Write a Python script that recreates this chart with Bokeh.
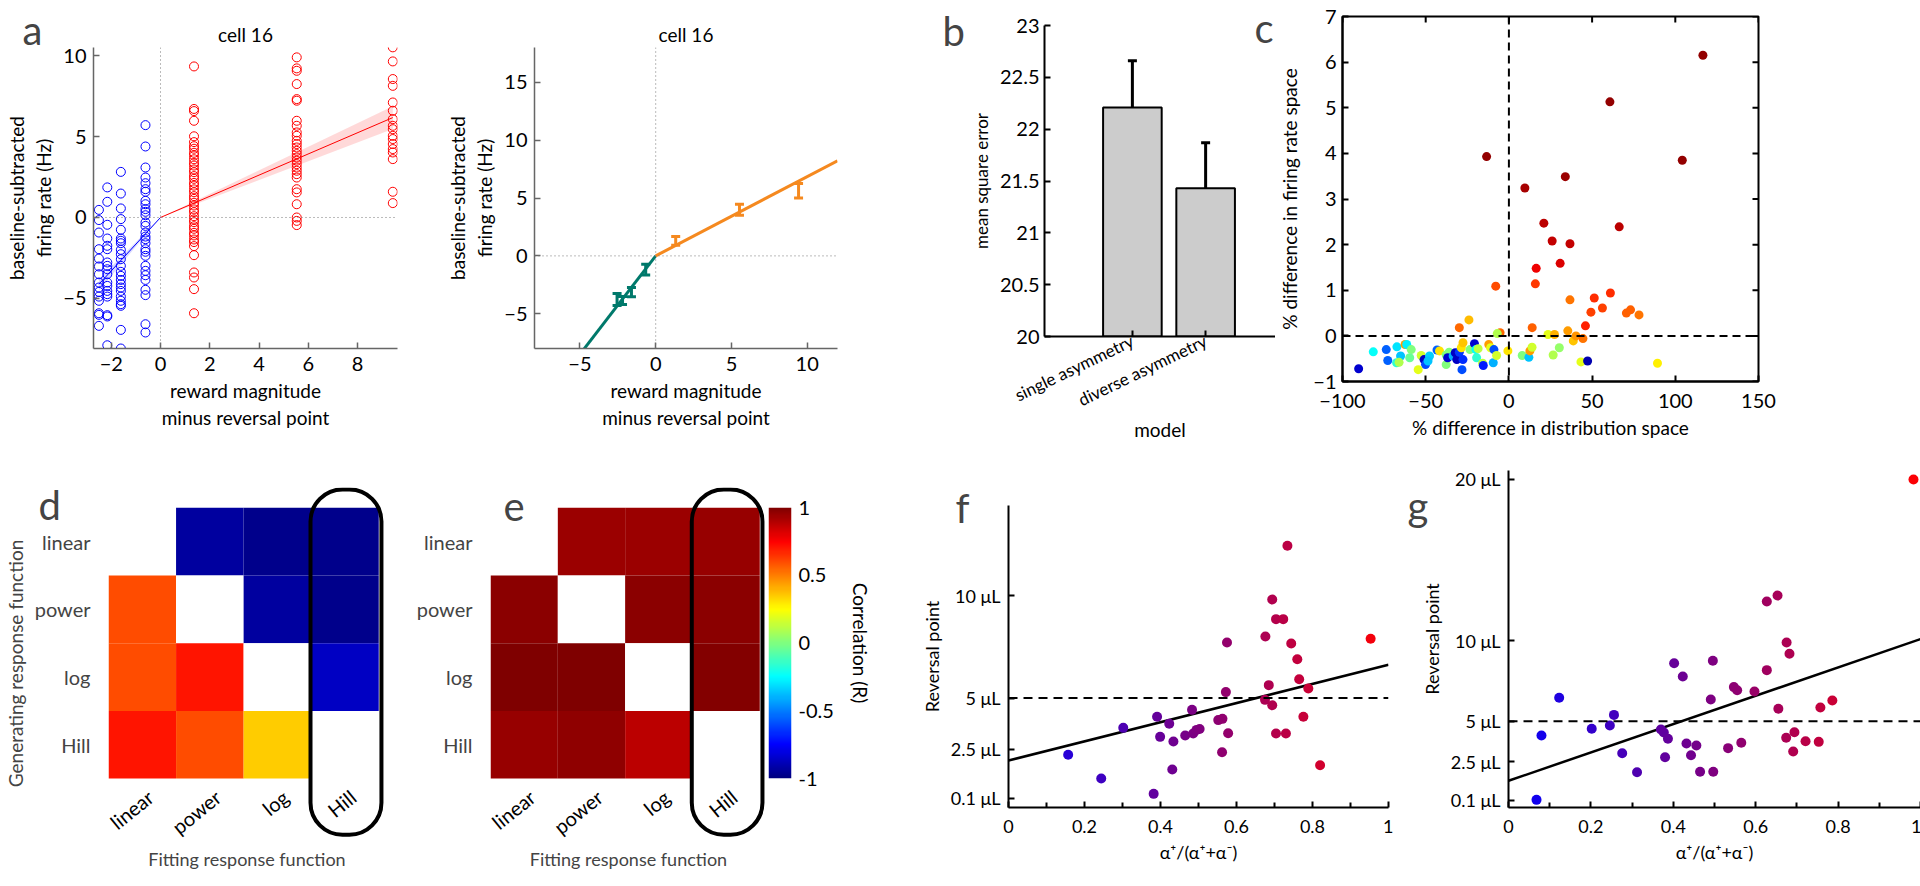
import numpy as np
from bokeh.plotting import figure
from bokeh.layouts import row, column
from bokeh.models import (ColumnDataSource, Span, Label, FixedTicker,
                          Whisker, TeeHead, BoxAnnotation, LinearColorMapper)
from bokeh.transform import linear_cmap
from bokeh.embed import file_html
from bokeh.resources import INLINE
from bokeh.core.properties import value

FONT = "Lato"

# ---------------- data: panel a (left) single trials ----------------
a_neg_x = [-2.5, -2.16, -1.61, -0.61]
a_neg_y = [
    [0.47, -0.16, -0.93, -1.96, -2.54, -3.03, -3.51, -4.02, -4.33, -4.60, -4.89, -5.15, -5.92, -6.02, -6.70],
    [1.86, 0.97, -0.45, -1.30, -1.75, -1.96, -2.78, -2.99, -3.20, -3.51, -4.02, -4.23, -4.54, -4.74, -4.89, -6.04, -6.12, -7.90],
    [2.82, 1.48, 0.56, -0.10, -0.76, -1.30, -1.44, -1.59, -2.00, -2.27, -2.58, -2.99, -3.36, -3.61, -3.86, -4.12,
     -4.33, -4.54, -4.89, -5.15, -5.36, -5.46, -6.95, -8.10],
    [5.71, 4.39, 3.09, 2.47, 2.12, 1.75, 1.59, 1.03, 0.82, 0.52, 0.35, 0.14, -0.31, -0.52, -0.93, -1.18, -1.34,
     -1.59, -1.96, -2.12, -2.37, -2.99, -3.30, -3.57, -3.86, -4.47, -4.80, -6.60, -7.11],
]
a_pos_x = [1.36, 5.53, 9.43]
a_pos_y = [
    [9.34, 6.71, 6.58, 5.98, 5.02, 4.66, 4.41, 4.25, 4.00, 3.83, 3.60, 3.38, 3.21, 2.97, 2.80, 2.56, 2.39, 2.14,
     1.97, 1.74, 1.56, 1.32, 1.15, 0.91, 0.74, 0.50, 0.33, 0.08, -0.12, -0.29, -0.54, -0.70, -0.95, -1.11, -1.36,
     -1.52, -1.77, -2.33, -3.40, -3.71, -4.43, -5.92],
    [9.90, 9.22, 9.07, 8.25, 7.32, 7.22, 5.98, 5.67, 5.26, 5.05, 4.74, 4.54, 4.33, 4.12, 3.92, 3.71, 3.51, 3.30,
     3.09, 2.89, 2.68, 2.47, 1.75, 1.55, 0.82, 0.00, -0.21, -0.47],
    [10.52, 9.65, 8.56, 8.14, 7.11, 6.60, 6.08, 5.67, 5.46, 5.05, 4.85, 4.54, 4.23, 4.02, 3.61, 1.59, 0.89],
]
a_neg_fit = [1.65, 1.52, 1.80]   # slope, lower, upper
a_pos_fit = [0.655, 0.58, 0.73]

# ---------------- data: panel a (right) means +- sem ----------------
a2_neg_x = [-2.55, -2.19, -1.60, -0.66]
a2_neg_mean = [-3.76, -3.86, -3.13, -1.19]
a2_neg_err = [0.52, 0.35, 0.39, 0.46]
a2_pos_x = [1.32, 5.53, 9.43]
a2_pos_mean = [1.30, 3.98, 5.63]
a2_pos_err = [0.38, 0.48, 0.63]
a2_slopes = [1.70, 0.685]

# ---------------- data: panel b ----------------
b_models = ["single asymmetry", "diverse asymmetry"]
b_mse = [22.21, 21.43]
b_lo = [21.75, 20.98]
b_hi = [22.66, 21.87]

# ---------------- data: panel c ----------------
c_x = [116.6, 60.7, -13.4, 104.2, 9.6, 33.9, 21.0, 26.0, 36.7, 66.3, 30.8, 16.4, 15.9, -7.9, 36.7, 51.3, 61.0,
       56.2, 49.3, 70.6, 73.1, 78.2, 46.0, 14.0, -5.3, -29.8, -24.0, 89.3,
       -90.3, -81.5, -73.7, -72.8, -67.3, -65.1, -62.4, -61.4, -58.7, -59.6, -67.5, -66.0, -52.7, -51.0, -50.1,
       -47.7, -48.6, -54.5, -43.2, -41.7, -37.7, -35.9, -37.7, -36.8, -33.5, -32.2, -31.3, -29.8, -28.6, -27.6,
       -27.6, -28.2, -23.4, -20.7, -19.8, -18.5, -19.4, -15.8, -15.4, -12.1, -11.0, -9.0, -9.4, -7.0, -0.6, -7.4,
       8.0, 12.0, 12.6, 13.9, 23.5, 27.4, 30.3, 26.6, 35.4, 38.7, 40.3, 44.5, 43.3, 47.3]
c_y = [6.15, 5.13, 3.93, 3.85, 3.24, 3.49, 2.47, 2.08, 2.02, 2.39, 1.59, 1.48, 1.14, 1.09, 0.79, 0.83, 0.94,
       0.61, 0.52, 0.50, 0.57, 0.46, 0.22, 0.18, 0.07, 0.18, 0.35, -0.60,
       -0.72, -0.35, -0.30, -0.54, -0.24, -0.44, -0.19, -0.19, -0.30, -0.48, -0.59, -0.58, -0.43, -0.52, -0.63,
       -0.44, -0.55, -0.74, -0.31, -0.33, -0.42, -0.36, -0.63, -0.48, -0.44, -0.37, -0.52, -0.36, -0.26, -0.15,
       -0.52, -0.74, -0.30, -0.17, -0.30, -0.28, -0.48, -0.60, -0.65, -0.19, -0.26, -0.30, -0.59, 0.05, -0.33, -0.43,
       -0.43, -0.47, -0.33, -0.25, 0.03, 0.03, -0.26, -0.42, 0.11, -0.11, 0.00, -0.06, -0.57, -0.55]
c_col = [0.98, 0.98, 0.98, 0.98, 0.96, 0.97, 0.94, 0.93, 0.93, 0.94, 0.91, 0.89, 0.82, 0.80, 0.76, 0.83, 0.83,
         0.81, 0.81, 0.78, 0.78, 0.76, 0.84, 0.78, 0.77, 0.77, 0.69, 0.64,
         0.08, 0.38, 0.22, 0.22, 0.35, 0.32, 0.72, 0.36, 0.50, 0.48, 0.42, 0.55, 0.58, 0.07, 0.20,
         0.33, 0.32, 0.60, 0.22, 0.65, 0.50, 0.50, 0.50, 0.08, 0.30, 0.07, 0.07, 0.18, 0.65, 0.68,
         0.17, 0.20, 0.50, 0.08, 0.38, 0.56, 0.42, 0.56, 0.15, 0.72, 0.60, 0.20, 0.30, 0.55, 0.65, 0.58,
         0.50, 0.32, 0.72, 0.58, 0.60, 0.70, 0.52, 0.55, 0.72, 0.68, 0.73, 0.76, 0.60, 0.05]
c_xticks = [-100, -50, 0, 50, 100, 150]
c_yticks = [-1, 0, 1, 2, 3, 4, 5, 6, 7]

# ---------------- data: panels d, e ----------------
resp_funcs = ["linear", "power", "log", "Hill"]
nan = float("nan")
d_R = [[nan, -0.935, -0.975, -0.97],
       [0.60, nan, -0.93, -0.97],
       [0.60, 0.71, nan, -0.86],
       [0.71, 0.60, 0.35, nan]]
e_R = [[nan, 0.94, 0.94, 0.95],
       [0.975, nan, 0.975, 0.975],
       [0.995, 0.995, nan, 0.99],
       [0.95, 0.965, 0.88, nan]]

# ---------------- data: panels f, g ----------------
f_asym = [0.157, 0.244, 0.302, 0.382, 0.391, 0.399, 0.423, 0.434, 0.431, 0.465, 0.483, 0.486, 0.495, 0.503, 0.552,
          0.563, 0.562, 0.572, 0.575, 0.578, 0.676, 0.675, 0.685, 0.694, 0.694, 0.704, 0.723, 0.704, 0.730, 0.734,
          0.744, 0.760, 0.765, 0.789, 0.776, 0.820, 0.953]
f_rev = [2.22, 1.06, 3.54, 0.31, 4.08, 3.10, 3.74, 2.87, 1.50, 3.17, 4.42, 3.26, 3.44, 3.48, 3.92,
         3.98, 2.35, 5.29, 7.72, 3.28, 8.01, 4.91, 5.63, 9.82, 4.65, 8.86, 8.86, 3.26, 3.26, 12.45,
         7.67, 6.90, 5.92, 5.47, 4.08, 1.71, 7.90]
f_fit = [1.94, 4.69]   # intercept, slope
g_asym = [0.068, 0.080, 0.123, 0.202, 0.246, 0.256, 0.276, 0.312, 0.370, 0.377, 0.387, 0.380, 0.402, 0.423,
          0.432, 0.443, 0.456, 0.465, 0.491, 0.496, 0.497, 0.533, 0.547, 0.555, 0.565, 0.597, 0.627, 0.653,
          0.627, 0.655, 0.675, 0.682, 0.674, 0.694, 0.691, 0.721, 0.753, 0.757, 0.786, 0.983]
g_rev = [0.14, 4.12, 6.46, 4.54, 4.74, 5.40, 3.03, 1.85, 4.50, 4.31, 3.92, 2.78, 8.60, 7.78,
         3.63, 2.90, 3.50, 1.88, 6.35, 8.75, 1.88, 3.34, 7.12, 6.93, 3.67, 6.85, 12.42, 12.79,
         8.17, 5.78, 9.88, 9.18, 3.98, 4.33, 3.13, 3.77, 3.73, 5.86, 6.29, 19.97]
g_fit = [1.32, 8.77]
rev_ref = 5.0
rev_ticks = [0.1, 2.5, 5, 10, 20]


# ---------------- helpers ----------------
def jet(n):
    out = []
    for i in range(n):
        t = i / (n - 1)
        r = min(max(1.5 - abs(4 * t - 3), 0), 1)
        g = min(max(1.5 - abs(4 * t - 2), 0), 1)
        b = min(max(1.5 - abs(4 * t - 1), 0), 1)
        out.append("#%02x%02x%02x" % (int(r * 255), int(g * 255), int(b * 255)))
    return out


JET = jet(256)
BLUE_RED = ["#%02x00%02x" % (i, 255 - i) for i in range(256)]


def base_fig(fw, fh, l, r, t, b, xr, yr, **kw):
    p = figure(frame_width=fw, frame_height=fh, x_range=xr, y_range=yr, min_border_left=l, min_border_right=r,
               min_border_top=t, min_border_bottom=b, output_backend="svg", toolbar_location=None, **kw)
    p.grid.visible = False
    p.outline_line_color = None
    p.background_fill_color = "white"
    p.border_fill_color = "white"
    p.title.text_font_size = "0px"
    return p


def style_axes(p, color="black", lw=1.5, tick_size="20px", label_size="19px"):
    for ax in p.axis:
        ax.axis_line_color = color
        ax.axis_line_width = lw
        ax.major_tick_line_color = color
        ax.major_tick_line_width = lw
        ax.major_tick_in = 6
        ax.major_tick_out = 0
        ax.minor_tick_line_color = None
        ax.major_label_text_font = FONT
        ax.major_label_text_font_size = tick_size
        ax.major_label_text_color = "black"
        ax.axis_label_text_font = FONT
        ax.axis_label_text_font_size = label_size
        ax.axis_label_text_font_style = "normal"
        ax.axis_label_text_color = "black"


def letter(p, txt, ax_, ay_, frame, side):
    """panel letter at page position (ax_, ay_), expressed in the panel's data coordinates;
    kept in a side panel so that it is not clipped to the plot frame"""
    fl, ft, fw, fh = frame
    xr, yr = p.x_range, p.y_range
    x = xr.start + (ax_ - fl) / fw * (xr.end - xr.start)
    y = yr.start + (ft + fh - ay_) / fh * (yr.end - yr.start)
    lab = Label(x=x, y=y, text=txt, text_font=FONT, text_font_size="40px",
                text_baseline="alphabetic", text_align="left")
    if side is None:
        p.add_layout(lab)
    else:
        p.add_layout(lab, side)


def title(p, txt):
    p.title.text = txt
    p.title.align = "center"
    p.title.text_font = FONT
    p.title.text_font_size = "19px"
    p.title.text_font_style = "normal"
    p.title.text_color = "black"
    p.title.standoff = 4


# ================= panel a (left) =================  canvas x 8..440
pa = base_fig(304, 301, 93, 35, 47, 97, (-2.72, 9.62), (-8.1, 10.51))
style_axes(pa, color="#666666", lw=1.5)
title(pa, "cell 16")
pa.xaxis.ticker = FixedTicker(ticks=[-2, 0, 2, 4, 6, 8])
pa.yaxis.ticker = FixedTicker(ticks=[-5, 0, 5, 10])
pa.xaxis.axis_label = "reward magnitude\nminus reversal point"
pa.yaxis.axis_label = "baseline-subtracted\nfiring rate (Hz)"
pa.xaxis.major_label_standoff = 8
pa.yaxis.major_label_standoff = 7
for sp in (Span(location=0, dimension="height"), Span(location=0, dimension="width")):
    sp.line_color = "#777777"
    sp.line_dash = "1 3"
    sp.line_width = 1
    pa.add_layout(sp)
nx = np.array([min(a_neg_x), 0.0])
pa.varea(x=nx, y1=nx * a_neg_fit[1], y2=nx * a_neg_fit[2], fill_color="#0000ff", fill_alpha=0.15)
px_ = np.array([0.0, max(a_pos_x)])
pa.varea(x=px_, y1=px_ * a_pos_fit[1], y2=px_ * a_pos_fit[2], fill_color="#ff0000", fill_alpha=0.15)
pa.line(nx, nx * a_neg_fit[0], line_color="#0000ff", line_width=1)
pa.line(px_, px_ * a_pos_fit[0], line_color="#ff0000", line_width=1)
xs, ys = [], []
for x, col in zip(a_neg_x, a_neg_y):
    xs += [x] * len(col)
    ys += col
pa.scatter(xs, ys, size=9, fill_color=None, line_color="#0000ff", line_width=1)
xs, ys = [], []
for x, col in zip(a_pos_x, a_pos_y):
    xs += [x] * len(col)
    ys += col
pa.scatter(xs, ys, size=9, fill_color=None, line_color="#ff0000", line_width=1)
letter(pa, "a", 30, 37, (101, 55, 304, 301), "right")

# ================= panel a (right) =================  canvas x 440..934
pa2 = base_fig(303, 301, 102, 89, 47, 97, (-8, 12), (-8, 18))
style_axes(pa2, color="#666666", lw=1.5)
title(pa2, "cell 16")
pa2.xaxis.ticker = FixedTicker(ticks=[-5, 0, 5, 10])
pa2.yaxis.ticker = FixedTicker(ticks=[-5, 0, 5, 10, 15])
pa2.xaxis.axis_label = "reward magnitude\nminus reversal point"
pa2.yaxis.axis_label = "baseline-subtracted\nfiring rate (Hz)"
pa2.xaxis.major_label_standoff = 8
pa2.yaxis.major_label_standoff = 7
for sp in (Span(location=0, dimension="height"), Span(location=0, dimension="width")):
    sp.line_color = "#777777"
    sp.line_dash = "1 3"
    sp.line_width = 1
    pa2.add_layout(sp)
TEAL = "#00796b"
ORANGE = "#f5891f"
lx = np.array([-8.0, 0.0])
pa2.line(lx, lx * a2_slopes[0], line_color=TEAL, line_width=3)
rx = np.array([0.0, 12.0])
pa2.line(rx, rx * a2_slopes[1], line_color=ORANGE, line_width=3)
for xv, mv, ev, colr in ((a2_neg_x, a2_neg_mean, a2_neg_err, TEAL), (a2_pos_x, a2_pos_mean, a2_pos_err, ORANGE)):
    src = ColumnDataSource(dict(x=xv, lo=[m - e for m, e in zip(mv, ev)], hi=[m + e for m, e in zip(mv, ev)]))
    pa2.add_layout(Whisker(source=src, base="x", lower="lo", upper="hi", line_color=colr, line_width=3,
                           upper_head=TeeHead(size=9, line_color=colr, line_width=3),
                           lower_head=TeeHead(size=9, line_color=colr, line_width=3)))

# ================= panel b =================  canvas x 934..1280
pb = base_fig(231, 311, 115, 0, 25, 109, (-0.2, 2.954), (20, 23))
style_axes(pb, color="black", lw=2)
bx = [1, 2]
pb.vbar(x=bx, top=b_mse, bottom=20, width=0.8, fill_color="#cccccc", line_color="black", line_width=2)
bsrc = ColumnDataSource(dict(x=bx, lo=b_lo, hi=b_hi))
pb.add_layout(Whisker(source=bsrc, base="x", lower="lo", upper="hi", line_color="black", line_width=3,
                      upper_head=TeeHead(size=9, line_color="black", line_width=3),
                      lower_head=TeeHead(size=9, line_color="black", line_width=3)))
pb.xaxis.ticker = FixedTicker(ticks=bx)
pb.xaxis.major_label_overrides = {1: b_models[0], 2: b_models[1]}
pb.xaxis.major_label_orientation = 0.45
pb.xaxis.major_label_text_font_size = "17px"
pb.xaxis.major_label_standoff = 3
pb.xaxis.axis_label = "model"
pb.xaxis.axis_label_standoff = -4
bticks = [20, 20.5, 21, 21.5, 22, 22.5, 23]
pb.yaxis.ticker = FixedTicker(ticks=bticks)
pb.yaxis.major_label_overrides = {t: ("%g" % t) for t in bticks}
pb.yaxis.axis_label = "mean square error"
pb.yaxis.axis_label_text_font_size = "17px"
letter(pb, "b", 947, 38, (1049, 33, 231, 311), "left")
letter(pb, "c", 1259, 35, (1049, 33, 231, 311), "left")

# ================= panel c =================  canvas x 1280..1911
pc = base_fig(416, 365, 55, 160, 16, 64, (-100, 150), (-1, 7))
style_axes(pc, color="black", lw=2)
pc.outline_line_color = "black"
pc.outline_line_width = 2
pc.xaxis.ticker = FixedTicker(ticks=c_xticks)
pc.yaxis.ticker = FixedTicker(ticks=c_yticks)
pc.xaxis.axis_label = "% difference in distribution space"
pc.yaxis.axis_label = "% difference in firing rate space"
pc.xaxis.major_label_standoff = 12
pc.yaxis.major_label_standoff = 6
pc.yaxis.axis_label_standoff = 9
# mirrored inward ticks on the top and right edges
pc.scatter(x=[pc.x_range.end] * len(c_yticks), y=c_yticks, marker="dash", size=12, line_color="black", line_width=2)
pc.scatter(x=c_xticks, y=[pc.y_range.end] * len(c_xticks), marker="dash", angle=np.pi / 2, size=12,
           line_color="black", line_width=2)
for sp in (Span(location=0, dimension="height"), Span(location=0, dimension="width")):
    sp.line_color = "black"
    sp.line_dash = "8 5"
    sp.line_width = 2
    pc.add_layout(sp)
csrc = ColumnDataSource(dict(x=c_x, y=c_y, c=c_col))
pc.scatter("x", "y", source=csrc, size=9, line_color=None, fill_color=linear_cmap("c", JET, 0, 1))


# ================= panels d, e =================
def heat(p, mat):
    xs, ys, vs = [], [], []
    for i, rowv in enumerate(mat):
        for j, v in enumerate(rowv):
            xs.append(j)
            ys.append(len(mat) - 1 - i)
            vs.append(v)
    src = ColumnDataSource(dict(x=xs, y=ys, v=vs))
    p.rect("x", "y", width=1, height=1, source=src, line_color=None,
           fill_color=linear_cmap("v", JET, -1, 1, nan_color="white"))
    n = len(resp_funcs)
    p.yaxis.ticker = FixedTicker(ticks=list(range(n)))
    p.yaxis.major_label_overrides = {n - 1 - i: s for i, s in enumerate(resp_funcs)}
    p.text(x=[j + 0.12 for j in range(n)], y=[-0.73] * n, text=resp_funcs, angle=0.68,
           text_align="right", text_baseline="middle", text_font=value(FONT), text_font_size="20px")
    p.xaxis.ticker = FixedTicker(ticks=[])
    p.xaxis.axis_label = "Fitting response function"
    p.add_layout(BoxAnnotation(left=2.49, right=3.54, top=3.77, bottom=-1.33, fill_alpha=0,
                               fill_color=None, line_color="black", line_alpha=1, line_width=4,
                               border_radius=32))
    for ax in p.axis:
        ax.axis_line_color = None
        ax.major_tick_line_color = None
        ax.minor_tick_line_color = None
        ax.major_label_text_font = FONT
        ax.major_label_text_font_size = "20px"
        ax.axis_label_text_font = FONT
        ax.axis_label_text_font_size = "18px"
        ax.axis_label_text_font_style = "normal"
        ax.major_label_standoff = 12
    p.xaxis.axis_label_standoff = 8


# canvas x 8..405
pd_ = base_fig(277, 352, 92, 28, 42, 31, (-0.5, 3.6), (-1.4, 3.8))
heat(pd_, d_R)
pd_.yaxis.axis_label = "Generating response function"
pd_.yaxis.axis_label_text_font_size = "19px"
letter(pd_, "d", 30, 512, (100, 495, 277, 352), "right")

# canvas x 405..756
pe = base_fig(276, 352, 75, 0, 42, 31, (-0.5, 3.6), (-1.4, 3.8))
heat(pe, e_R)
letter(pe, "e", 493, 514, (480, 495, 276, 352), None)

# colour bar, canvas x 756..870
pcb = base_fig(23, 271, 2, 89, 62, 92, (0, 1), (-1, 1), x_axis_location=None, y_axis_location="right")
grad = np.linspace(-1, 1, 256).reshape(256, 1)
pcb.image(image=[grad], x=0, y=-1, dw=1, dh=2, color_mapper=LinearColorMapper(palette=JET, low=-1, high=1))
cb_ticks = [-1, -0.5, 0, 0.5, 1]
pcb.yaxis.ticker = FixedTicker(ticks=cb_ticks)
pcb.yaxis.major_label_overrides = {t: ("%g" % t) for t in cb_ticks}
pcb.yaxis.axis_label = "Correlation (R)"
style_axes(pcb, color="black", tick_size="20px", label_size="19px")
pcb.yaxis.axis_line_color = None
pcb.yaxis.major_tick_line_color = None
pcb.yaxis.major_label_standoff = 7
pcb.yaxis.axis_label_standoff = 12


# ================= panels f, g =================
def rev_fig(fw, fh, l, r, t, yr, asym, rev, fit, ticks, ltr, lpos, frame):
    p = base_fig(fw, fh, l, r, t, 63, (0, 1), yr)
    style_axes(p, color="black", lw=2, tick_size="18px", label_size="18px")
    p.xaxis.ticker = FixedTicker(ticks=[0, 0.2, 0.4, 0.6, 0.8, 1],
                                 minor_ticks=[0.1, 0.3, 0.5, 0.7, 0.9])
    p.xaxis.major_label_overrides = {0: "0", 1: "1"}
    p.xaxis.minor_tick_line_color = "black"
    p.xaxis.minor_tick_line_width = 2
    p.xaxis.minor_tick_in = 5
    p.xaxis.minor_tick_out = 0
    p.xaxis.major_label_standoff = 12
    p.xaxis.axis_label = "α⁺/(α⁺+α⁻)"
    p.yaxis.ticker = FixedTicker(ticks=ticks)
    p.yaxis.major_label_overrides = {tk: "%g μL" % tk for tk in ticks}
    p.yaxis.axis_label = "Reversal point"
    p.yaxis.major_label_standoff = 8
    p.add_layout(Span(location=rev_ref, dimension="width", line_color="black", line_dash="9 6", line_width=2))
    fx = np.array([0.0, 1.0])
    p.line(fx, fit[0] + fit[1] * fx, line_color="black", line_width=2.5)
    src = ColumnDataSource(dict(x=asym, y=rev))
    p.scatter("x", "y", source=src, size=10, line_color=None, fill_color=linear_cmap("x", BLUE_RED, 0, 1))
    letter(p, ltr, lpos[0], lpos[1], frame, "left")
    return p


# canvas x 870..1383
pf = rev_fig(380, 302, 128, 5, 60, (-0.357, 14.42), f_asym, f_rev, f_fit, rev_ticks[:4], "f",
             (945, 515), (998, 513, 380, 302))
# canvas x 1383..1911
pg = rev_fig(412, 337, 115, 1, 25, (-0.334, 20.53), g_asym, g_rev, g_fit, rev_ticks, "g",
             (1397, 513), (1498, 478, 412, 337))

top = row(*[column(f) for f in (pa, pa2, pb, pc)])
bottom = row(*[column(f) for f in (pd_, pe, pcb, pf, pg)])
layout = column(top, bottom)
open("out.html", "w").write(file_html(layout, INLINE))
